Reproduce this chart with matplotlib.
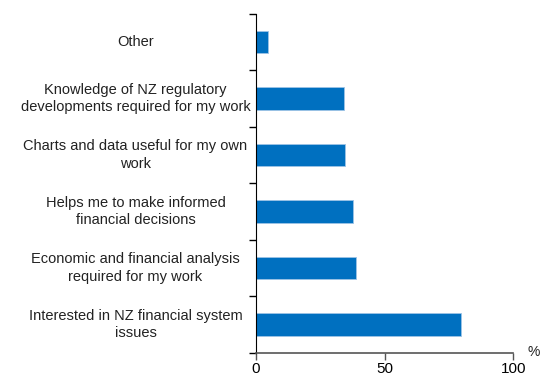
import matplotlib
matplotlib.use('Agg')
import matplotlib.pyplot as plt

plt.rcParams['font.family'] = ['Liberation Sans', 'DejaVu Sans']

# data (bottom to top)
categories = [
    'Interested in NZ financial system\nissues',
    'Economic and financial analysis\nrequired for my work',
    'Helps me to make informed\nfinancial decisions',
    'Charts and data useful for my own\nwork',
    'Knowledge of NZ regulatory\ndevelopments required for my work',
    'Other',
]
values = [79.8, 38.9, 37.8, 34.7, 34.2, 4.8]
xticks = [0, 50, 100]

fig = plt.figure(figsize=(5.4, 3.76), dpi=100)
ax = fig.add_axes([0.474, 0.062, 0.4766, 0.901])

pos = range(len(categories))
ax.barh(pos, values, height=0.4, color='#0070C0', edgecolor='#9DC3E6', linewidth=0.6)

ax.set_xlim(0, 100)
ax.set_ylim(-0.5, len(categories) - 0.5)
ax.set_xticks(xticks)
ax.set_xticklabels([str(t) for t in xticks], fontsize=11)

# category labels centred in bands, ticks at band edges
ax.set_yticks([p - 0.5 for p in pos] + [len(categories) - 0.5])
ax.set_yticklabels([])
ax.tick_params(axis='y', length=5, width=1, direction='out', color='black')
ax.tick_params(axis='x', length=5, width=1, direction='out', color='#555555', pad=2)
for p, lab in zip(pos, categories):
    ax.text(-0.468, p, lab, transform=ax.get_yaxis_transform(), ha='center',
            va='center', multialignment='center', fontsize=10.5, color='#222222',
            linespacing=1.3)

for s in ['top', 'right']:
    ax.spines[s].set_visible(False)
ax.spines['left'].set_color('black')
ax.spines['bottom'].set_color('#555555')
ax.spines['bottom'].set_linewidth(1.2)

fig.text(1.0, 0.065, '%', ha='right', va='center', fontsize=10, color='#222222')

fig.savefig('out.png', dpi=100)
